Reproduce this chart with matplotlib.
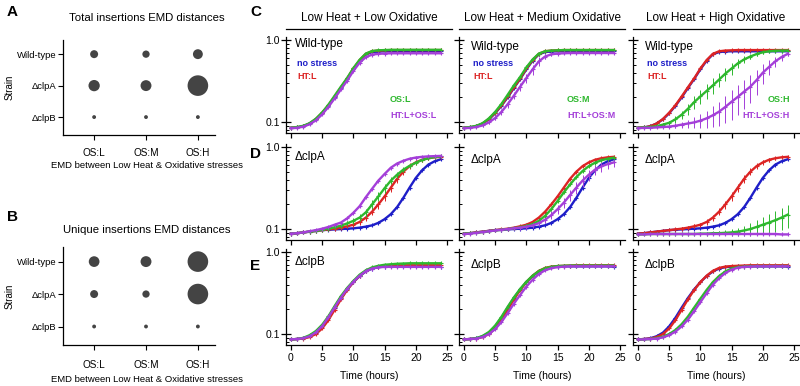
import numpy as np
import matplotlib
matplotlib.use('Agg')
import matplotlib.pyplot as plt

plt.rcParams['font.family'] = ['Liberation Sans', 'DejaVu Sans']

# ---------------- A / B : EMD distance bubble charts ----------------
STRAINS = ['Wild-type', '\u0394clpA', '\u0394clpB']
OS_LEVELS = ['OS:L', 'OS:M', 'OS:H']

# total insertions EMD (Wild-type, clpA, clpB) x (OS:L, OS:M, OS:H)
emd_total_wt = [0.15, 0.125, 0.23]
emd_total_clpa = [0.30, 0.28, 1.00]
emd_total_clpb = [0.035, 0.035, 0.035]
# unique insertions EMD
emd_unique_wt = [0.27, 0.28, 1.00]
emd_unique_clpa = [0.15, 0.125, 1.00]
emd_unique_clpb = [0.035, 0.035, 0.035]

# ---------------- C / D / E : growth curves (OD600, hourly) ----------------
HOURS = list(range(0, 25))

# Wild-type
wt_ns = [0.085, 0.086, 0.089, 0.096, 0.108, 0.128, 0.158, 0.200, 0.260, 0.335, 0.440, 0.560, 0.670,
         0.715, 0.725, 0.730, 0.730, 0.730, 0.730, 0.730, 0.730, 0.730, 0.730, 0.730, 0.730]
wt_ht = [0.085, 0.086, 0.089, 0.096, 0.109, 0.130, 0.160, 0.205, 0.265, 0.340, 0.450, 0.570, 0.680,
         0.730, 0.745, 0.750, 0.755, 0.755, 0.755, 0.755, 0.755, 0.755, 0.755, 0.755, 0.755]
wt_os_l = [0.085, 0.087, 0.090, 0.097, 0.110, 0.131, 0.163, 0.210, 0.270, 0.345, 0.455, 0.575, 0.685,
           0.735, 0.750, 0.755, 0.760, 0.760, 0.760, 0.760, 0.760, 0.760, 0.760, 0.760, 0.760]
wt_htos_l = [0.084, 0.085, 0.088, 0.094, 0.105, 0.124, 0.153, 0.195, 0.250, 0.320, 0.420, 0.530, 0.620,
             0.665, 0.680, 0.685, 0.690, 0.690, 0.690, 0.690, 0.690, 0.690, 0.690, 0.690, 0.690]
wt_os_m = [0.085, 0.087, 0.090, 0.097, 0.111, 0.133, 0.166, 0.215, 0.280, 0.355, 0.465, 0.580, 0.685,
           0.730, 0.745, 0.750, 0.755, 0.755, 0.755, 0.755, 0.755, 0.755, 0.755, 0.755, 0.755]
wt_htos_m = [0.084, 0.085, 0.087, 0.091, 0.099, 0.112, 0.133, 0.165, 0.210, 0.270, 0.345, 0.440, 0.550,
             0.630, 0.670, 0.685, 0.690, 0.695, 0.695, 0.695, 0.695, 0.695, 0.695, 0.695, 0.695]
wt_os_h = [0.085, 0.086, 0.087, 0.089, 0.093, 0.098, 0.108, 0.123, 0.145, 0.175, 0.205, 0.240, 0.280,
           0.330, 0.390, 0.450, 0.520, 0.580, 0.630, 0.675, 0.710, 0.730, 0.740, 0.745, 0.745]
wt_htos_h = [0.084, 0.085, 0.085, 0.086, 0.087, 0.088, 0.090, 0.093, 0.096, 0.099, 0.104, 0.111, 0.121,
             0.134, 0.153, 0.177, 0.203, 0.235, 0.270, 0.325, 0.400, 0.470, 0.550, 0.620, 0.680]

# clpA
clpa_ns = [0.088, 0.089, 0.091, 0.093, 0.095, 0.097, 0.098, 0.099, 0.100, 0.101, 0.102, 0.104, 0.107,
           0.111, 0.119, 0.132, 0.152, 0.185, 0.240, 0.320, 0.420, 0.520, 0.610, 0.670, 0.710]
clpa_ht = [0.088, 0.089, 0.091, 0.093, 0.095, 0.097, 0.099, 0.101, 0.104, 0.108, 0.113, 0.122, 0.138,
           0.163, 0.200, 0.250, 0.320, 0.410, 0.500, 0.585, 0.650, 0.700, 0.730, 0.750, 0.760]
clpa_os_l = [0.088, 0.089, 0.091, 0.093, 0.095, 0.098, 0.101, 0.105, 0.110, 0.117, 0.126, 0.138, 0.160,
             0.200, 0.250, 0.315, 0.390, 0.460, 0.530, 0.590, 0.645, 0.695, 0.730, 0.755, 0.770]
clpa_htos_l = [0.088, 0.089, 0.091, 0.094, 0.097, 0.101, 0.106, 0.113, 0.120, 0.135, 0.158, 0.190, 0.245,
               0.310, 0.390, 0.470, 0.560, 0.630, 0.680, 0.720, 0.745, 0.760, 0.770, 0.775, 0.780]
clpa_os_m = [0.088, 0.089, 0.090, 0.092, 0.094, 0.096, 0.098, 0.100, 0.102, 0.105, 0.109, 0.115, 0.126,
             0.145, 0.175, 0.220, 0.280, 0.350, 0.430, 0.510, 0.585, 0.645, 0.690, 0.720, 0.740]
clpa_htos_m = [0.087, 0.088, 0.090, 0.092, 0.094, 0.096, 0.098, 0.100, 0.102, 0.104, 0.107, 0.111, 0.118,
               0.130, 0.148, 0.175, 0.210, 0.260, 0.320, 0.390, 0.460, 0.530, 0.580, 0.620, 0.650]
clpa_os_h = [0.086, 0.086, 0.087, 0.087, 0.087, 0.087, 0.087, 0.087, 0.087, 0.087, 0.088, 0.088, 0.089,
             0.089, 0.090, 0.091, 0.093, 0.096, 0.100, 0.106, 0.113, 0.120, 0.128, 0.138, 0.150]
clpa_htos_h = [0.086, 0.086, 0.087, 0.087, 0.087, 0.087, 0.087, 0.087, 0.087, 0.087, 0.087, 0.087, 0.087,
               0.087, 0.087, 0.087, 0.087, 0.087, 0.087, 0.087, 0.087, 0.087, 0.087, 0.086, 0.086]

# clpB
clpb_ns = [0.086, 0.087, 0.089, 0.094, 0.104, 0.124, 0.158, 0.210, 0.275, 0.350, 0.430, 0.510, 0.580,
           0.630, 0.655, 0.665, 0.670, 0.670, 0.670, 0.670, 0.670, 0.670, 0.670, 0.670, 0.665]
clpb_ht = [0.086, 0.087, 0.088, 0.092, 0.100, 0.117, 0.148, 0.198, 0.265, 0.345, 0.430, 0.515, 0.590,
           0.640, 0.665, 0.675, 0.680, 0.685, 0.690, 0.690, 0.690, 0.690, 0.690, 0.690, 0.690]
clpb_os_l = [0.086, 0.087, 0.090, 0.097, 0.109, 0.130, 0.165, 0.220, 0.290, 0.365, 0.445, 0.530, 0.600,
             0.650, 0.680, 0.700, 0.710, 0.720, 0.725, 0.730, 0.730, 0.730, 0.730, 0.730, 0.730]
clpb_htos_l = [0.086, 0.087, 0.089, 0.094, 0.105, 0.125, 0.160, 0.212, 0.278, 0.355, 0.435, 0.515, 0.585,
               0.630, 0.650, 0.660, 0.660, 0.660, 0.660, 0.660, 0.660, 0.660, 0.660, 0.660, 0.660]
clpb_os_m = [0.086, 0.087, 0.089, 0.095, 0.106, 0.127, 0.162, 0.215, 0.280, 0.355, 0.435, 0.515, 0.585,
             0.635, 0.660, 0.675, 0.680, 0.685, 0.685, 0.685, 0.685, 0.685, 0.685, 0.685, 0.685]
clpb_htos_m = [0.086, 0.087, 0.088, 0.092, 0.100, 0.115, 0.140, 0.180, 0.235, 0.300, 0.380, 0.460, 0.540,
               0.600, 0.635, 0.655, 0.665, 0.670, 0.670, 0.670, 0.670, 0.670, 0.670, 0.670, 0.670]
clpb_os_h = [0.086, 0.086, 0.087, 0.089, 0.093, 0.100, 0.112, 0.132, 0.163, 0.210, 0.270, 0.345, 0.430,
             0.510, 0.580, 0.630, 0.655, 0.665, 0.670, 0.675, 0.675, 0.675, 0.675, 0.675, 0.675]
clpb_htos_h = [0.086, 0.086, 0.087, 0.088, 0.091, 0.097, 0.107, 0.124, 0.150, 0.190, 0.245, 0.315, 0.400,
               0.480, 0.555, 0.610, 0.645, 0.660, 0.665, 0.670, 0.670, 0.670, 0.670, 0.670, 0.670]

# standard deviations for the noisy curves
sd_wt_htos_m = [0.002, 0.002, 0.002, 0.003, 0.004, 0.006, 0.010, 0.015, 0.020, 0.030, 0.045, 0.060, 0.065,
                0.050, 0.030, 0.020, 0.015, 0.012, 0.010, 0.010, 0.010, 0.010, 0.010, 0.010, 0.010]
sd_wt_os_h = [0.002, 0.002, 0.002, 0.003, 0.004, 0.006, 0.010, 0.015, 0.022, 0.030, 0.040, 0.050, 0.060,
              0.065, 0.070, 0.070, 0.065, 0.055, 0.045, 0.035, 0.025, 0.020, 0.015, 0.012, 0.010]
sd_wt_htos_h = [0.002, 0.002, 0.002, 0.002, 0.003, 0.004, 0.006, 0.008, 0.011, 0.015, 0.020, 0.026, 0.034,
                0.044, 0.056, 0.070, 0.080, 0.090, 0.100, 0.110, 0.110, 0.100, 0.080, 0.060, 0.045]
sd_clpa_ht = [0.002, 0.002, 0.002, 0.003, 0.003, 0.003, 0.004, 0.004, 0.005, 0.006, 0.007, 0.009, 0.012,
              0.016, 0.022, 0.030, 0.038, 0.045, 0.050, 0.050, 0.045, 0.035, 0.025, 0.020, 0.015]
sd_clpa_os_l = [0.002, 0.002, 0.002, 0.003, 0.003, 0.003, 0.004, 0.005, 0.006, 0.008, 0.010, 0.013, 0.018,
                0.024, 0.030, 0.036, 0.040, 0.040, 0.036, 0.030, 0.024, 0.018, 0.014, 0.012, 0.010]
sd_clpa_htos_m = [0.002, 0.002, 0.003, 0.003, 0.004, 0.004, 0.005, 0.005, 0.006, 0.006, 0.007, 0.008, 0.010,
                  0.012, 0.016, 0.022, 0.030, 0.040, 0.050, 0.060, 0.070, 0.075, 0.080, 0.080, 0.080]
sd_clpa_os_h = [0.001, 0.001, 0.001, 0.001, 0.001, 0.001, 0.001, 0.002, 0.002, 0.002, 0.003, 0.003, 0.004,
                0.005, 0.006, 0.008, 0.010, 0.013, 0.017, 0.022, 0.027, 0.032, 0.037, 0.042, 0.048]

ROW_NAMES = ['Wild-type', '\u0394clpA', '\u0394clpB']
COL_TITLES = ['Low Heat + Low Oxidative', 'Low Heat + Medium Oxidative', 'Low Heat + High Oxidative']
BLUE, RED, GREEN, PURPLE = '#1e1ec8', '#dc2424', '#2eb82e', '#a43fd9'

# (no stress, HT:L, OS, HT:L+OS) per row / column
PANELS = [
    [(wt_ns, wt_ht, wt_os_l, wt_htos_l), (wt_ns, wt_ht, wt_os_m, wt_htos_m), (wt_ns, wt_ht, wt_os_h, wt_htos_h)],
    [(clpa_ns, clpa_ht, clpa_os_l, clpa_htos_l), (clpa_ns, clpa_ht, clpa_os_m, clpa_htos_m),
     (clpa_ns, clpa_ht, clpa_os_h, clpa_htos_h)],
    [(clpb_ns, clpb_ht, clpb_os_l, clpb_htos_l), (clpb_ns, clpb_ht, clpb_os_m, clpb_htos_m),
     (clpb_ns, clpb_ht, clpb_os_h, clpb_htos_h)],
]
ERRS = {
    (0, 1, 3): sd_wt_htos_m, (0, 2, 2): sd_wt_os_h, (0, 2, 3): sd_wt_htos_h,
    (1, 0, 1): sd_clpa_ht, (1, 2, 1): sd_clpa_ht, (1, 0, 2): sd_clpa_os_l,
    (1, 1, 3): sd_clpa_htos_m, (1, 2, 2): sd_clpa_os_h,
}

W, H = 800, 386
fig = plt.figure(figsize=(W / 100, H / 100), dpi=100)


def px_axes(l, t, r, b):
    return fig.add_axes([l / W, 1 - b / H, (r - l) / W, (b - t) / H])


# ---- bubble panels
bubble_sets = [
    ('A', 'Total insertions EMD distances', (emd_total_wt, emd_total_clpa, emd_total_clpb), 40, 135, 12, 18, 165, 6),
    ('B', 'Unique insertions EMD distances', (emd_unique_wt, emd_unique_clpa, emd_unique_clpb), 247, 345, 217, 230, 380, 7),
]
for letter, title, vals, top, bot, ly, ty, xly, xpad in bubble_sets:
    ax = px_axes(63, top, 215, bot)
    for i, v in enumerate(vals):
        ax.scatter([0, 1, 2], [2 - i] * 3, s=np.array(v) * 220, color='#444444', linewidths=0, zorder=3)
    ax.set_xlim(-0.6, 2.33)
    ax.set_ylim(-0.57, 2.45)
    ax.set_yticks([2, 1, 0])
    ax.set_yticklabels(STRAINS, fontsize=6.8)
    ax.set_xticks([0, 1, 2])
    ax.set_xticklabels(OS_LEVELS, fontsize=7.2)
    ax.tick_params(axis='y', length=3.5, width=0.8, pad=1)
    ax.tick_params(axis='x', length=3.5, width=0.8, pad=xpad)
    for s in ('top', 'right'):
        ax.spines[s].set_visible(False)
    for s in ('left', 'bottom'):
        ax.spines[s].set_linewidth(0.9)
    fig.text(147 / W, 1 - xly / H, 'EMD between Low Heat & Oxidative stresses', fontsize=6.8,
             ha='center', va='center')
    fig.text(10 / W, 1 - (top + bot) / 2 / H, 'Strain', fontsize=7, rotation=90, ha='center', va='center')
    fig.text(147 / W, 1 - ty / H, title, fontsize=8.2, ha='center', va='center')
    fig.text(7 / W, 1 - ly / H, letter, fontsize=11, weight='bold', va='center')

# ---- growth curve panels
COL_L = [286, 459, 633]
ROW_T = [37, 144, 249]
name_pos = [(0.054, 0.93), (0.072, 0.90), (0.072, 0.90)]
for r in range(3):
    for c in range(3):
        ax = px_axes(COL_L[c], ROW_T[r], COL_L[c] + 166, ROW_T[r] + 96)
        series = PANELS[r][c]
        colors = [BLUE, RED, GREEN, PURPLE]
        for k in (0, 1, 2, 3):
            err = ERRS.get((r, c, k))
            ax.errorbar(HOURS, series[k], yerr=err, color=colors[k], lw=1.7, marker='+', ms=3.5,
                        mew=0.8, elinewidth=0.7, capsize=0, zorder=2 + k * 0.1)
        ax.set_yscale('log')
        ax.set_ylim(0.0735, 1.09)
        ax.set_xlim(-0.8, 25.8)
        ax.set_yticks([0.1, 1.0])
        ax.set_yticks([0.08, 0.09, 0.2, 0.3, 0.4, 0.5, 0.6, 0.7, 0.8, 0.9], minor=True)
        ax.yaxis.set_minor_formatter(plt.NullFormatter())
        if c == 0:
            ax.set_yticklabels(['0.1', '1.0'], fontsize=7.5)
        else:
            ax.set_yticklabels([])
        ax.tick_params(axis='y', which='major', direction='inout', length=7, width=0.9, pad=1)
        ax.tick_params(axis='y', which='minor', direction='in', length=2.5, width=0.7)
        ax.set_xticks([0, 5, 10, 15, 20, 25])
        ax.tick_params(axis='x', direction='out', length=3.5, width=0.9, pad=2, labelsize=7.5)
        if r < 2:
            ax.set_xticklabels([])
        else:
            ax.set_xlabel('Time (hours)', fontsize=7.5)
            ax.xaxis.set_label_coords(0.5, -0.27)
        for s in ('top', 'right'):
            ax.spines[s].set_visible(False)
        for s in ('left', 'bottom'):
            ax.spines[s].set_linewidth(0.9)
        nx, ny = name_pos[c]
        ax.text(nx, ny - (0.07 if r > 0 else 0), ROW_NAMES[r], transform=ax.transAxes, fontsize=8.5,
                va='center', ha='left')
        if r == 0:
            ax.text(0.5, 1.2, COL_TITLES[c], transform=ax.transAxes, fontsize=8.5, ha='center', va='center')
            ax.plot([0, 1], [1.083, 1.083], transform=ax.transAxes, color='black', lw=0.9, clip_on=False)
            ax.text(nx + 0.012, 0.72, 'no stress', transform=ax.transAxes, fontsize=6.5, weight='bold',
                    color=BLUE, va='center')
            ax.text(nx + 0.012, 0.59, 'HT:L', transform=ax.transAxes, fontsize=6.5, weight='bold',
                    color=RED, va='center')
            lvl = OS_LEVELS[c]
            if c == 2:
                tx, ha = 0.946, 'right'
            else:
                tx, ha = (0.627, 0.65)[c], 'left'
            ax.text(tx, 0.345, lvl, transform=ax.transAxes, fontsize=6.5, weight='bold',
                    color=GREEN, va='center', ha=ha)
            ax.text(tx, 0.18, 'HT:L+' + lvl, transform=ax.transAxes, fontsize=6.5, weight='bold',
                    color=PURPLE, va='center', ha=ha)

for letter, y in (('C', 12), ('D', 154), ('E', 266)):
    fig.text(250 / W, 1 - y / H, letter, fontsize=11, weight='bold', va='center')

fig.savefig('out.png', dpi=100)
